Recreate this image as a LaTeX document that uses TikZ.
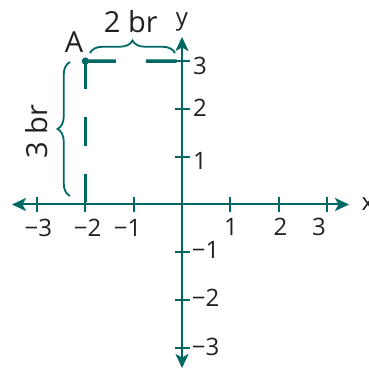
\documentclass[tikz,border=0pt]{standalone}
\usepackage{fontspec}
\setmainfont{Open Sans}
\usetikzlibrary{arrows.meta,decorations.pathreplacing}
\definecolor{teal1}{RGB}{0,104,100}
\definecolor{ink}{RGB}{35,31,32}
\begin{document}
\begin{tikzpicture}[x=48.3pt,y=47.8pt,
  axis/.style={draw=teal1, line width=2pt,
    {Stealth[length=14pt,width=13pt,inset=3.5pt]}-{Stealth[length=14pt,width=13pt,inset=3.5pt]}},
  tickmark/.style={draw=teal1, line width=2pt},
  ticklab/.style={font=\fontsize{24}{24}\selectfont, text=ink, inner sep=0pt},
  biglab/.style={font=\fontsize{29}{29}\selectfont, text=ink, inner sep=0pt},
  guide/.style={draw=teal1, line width=3.4pt},
  bracestyle/.style={draw=teal1, line width=1.8pt, decorate,
    decoration={brace, amplitude=12.5pt}}
]
\useasboundingbox (-182pt,-164.5pt) rectangle (186pt,204.5pt);
% axes
\coordinate (xl) at (-170pt,0pt);
\coordinate (xr) at (167pt,0pt);
\coordinate (yt) at (0pt,167.5pt);
\coordinate (yb) at (0pt,-163.5pt);
\draw[axis] (xl) -- (xr);
\draw[axis] (yb) -- (yt);
\foreach \i in {-3,-2,-1,1,2,3}{
  \draw[tickmark] (\i,-7.5pt) -- (\i,7.5pt);
  \draw[tickmark] (-7.5pt,\i) -- (7.5pt,\i);
}
% axis names
\node[ticklab, anchor=base] (ylab) at (0pt,179pt) {y};
\node[ticklab, anchor=base west] (xlab) at (179.5pt,-5.5pt) {x};
% x tick labels
\node[ticklab, anchor=base] (xm3) at (-143.7pt,-32pt) {−3};
\node[ticklab, anchor=base] (xm2) at (-94.5pt,-32pt) {−2};
\node[ticklab, anchor=base] (xm1) at (-54.5pt,-32pt) {−1};
\node[ticklab, anchor=base] (xp1) at (49pt,-31pt) {1};
\node[ticklab, anchor=base] (xp2) at (98.5pt,-31pt) {2};
\node[ticklab, anchor=base] (xp3) at (137pt,-31pt) {3};
% y tick labels
\node[ticklab, anchor=base west] (yp3) at (11pt,130pt) {3};
\node[ticklab, anchor=base west] (yp2) at (11pt,87.8pt) {2};
\node[ticklab, anchor=base west] (yp1) at (11pt,34.5pt) {1};
\node[ticklab, anchor=base west] (ym1) at (9.7pt,-53.8pt) {−1};
\node[ticklab, anchor=base west] (ym2) at (9.7pt,-102.2pt) {−2};
\node[ticklab, anchor=base west] (ym3) at (9.7pt,-150.5pt) {−3};
% point A and guides
\coordinate (A) at (-2,3);
\coordinate (Ax) at (-5.3pt,143.4pt);
\coordinate (Ay) at (-96.6pt,2.5pt);
\draw[guide, dash pattern=on 30.4pt off 30.4pt] (A) -- (Ax);
\draw[guide, dash pattern=on 28.2pt off 28.2pt] (A) -- (Ay);
\fill[teal1] (A) circle (3.7pt);
\node[biglab, anchor=base] (lA) at (-108pt,151.5pt) {A};
% braces
\coordinate (hb1) at (-92pt,151.5pt);
\coordinate (hb2) at (-7pt,151.5pt);
\draw[bracestyle] (hb1) -- (hb2);
\node[biglab, anchor=base] (l2br) at (-51.2pt,171.5pt) {2 br};
\coordinate (vb1) at (-112pt,8.5pt);
\coordinate (vb2) at (-112pt,142.5pt);
\draw[bracestyle] (vb1) -- (vb2);
\node[biglab, anchor=base, rotate=90] (l3br) at (-134pt,73pt) {3 br};
\end{tikzpicture}
\end{document}
